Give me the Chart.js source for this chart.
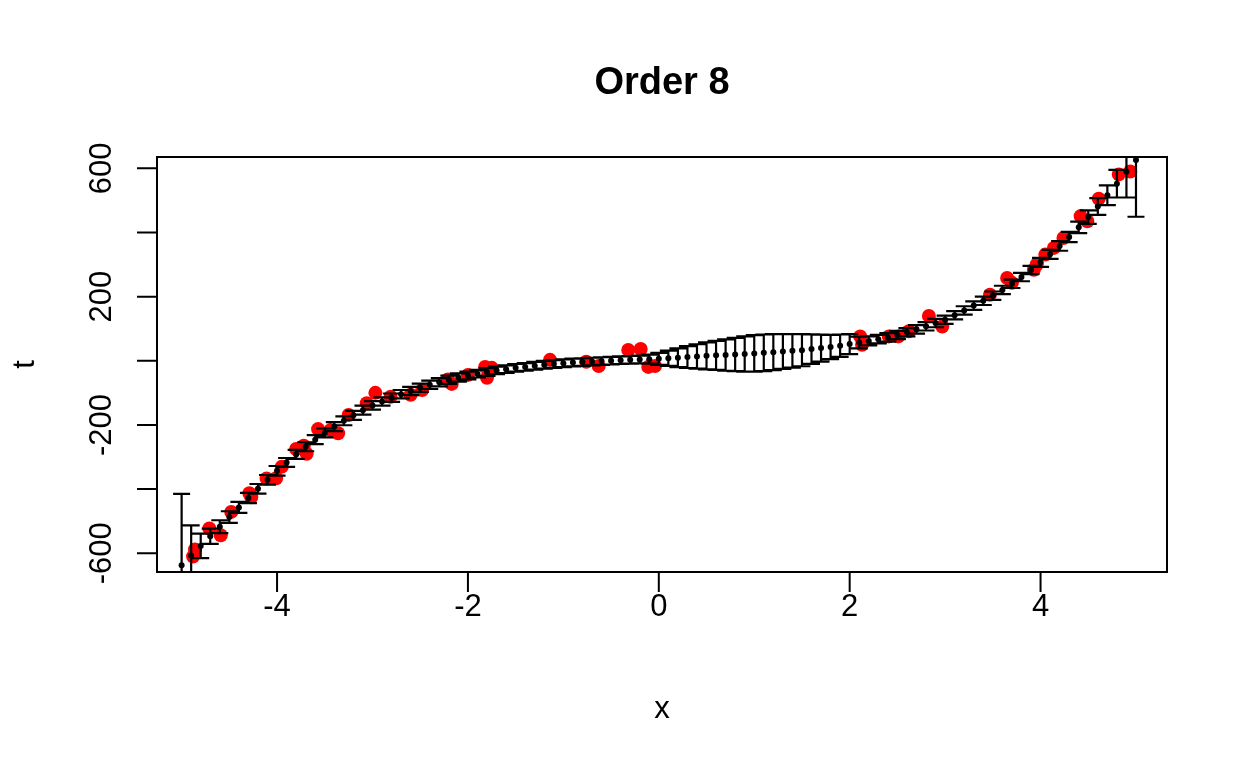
<!DOCTYPE html>
<html>
<head>
<meta charset="utf-8">
<title>Order 8</title>
<script src="https://cdn.jsdelivr.net/npm/chart.js@4.4.1/dist/chart.umd.min.js"></script>
<style>
  html, body { margin: 0; padding: 0; background: #fff; }
  #wrap { width: 1248px; height: 768px; }
</style>
</head>
<body>
<div id="wrap"><canvas id="chart" width="1248" height="768"></canvas></div>
<script>
// observed training points (red)
const obsX = [-4.88, -4.86, -4.71, -4.59, -4.48, -4.29, -4.27, -4.11, -4.01, -3.95,
              -3.8, -3.72, -3.69, -3.57, -3.44, -3.36, -3.25, -3.06, -2.97, -2.81,
              -2.6, -2.48, -2.21, -2.17, -2.0, -1.82, -1.8, -1.75, -1.14, -0.76,
              -0.63, -0.32, -0.19, -0.11, -0.04, 2.11, 2.13, 2.41, 2.51, 2.62,
              2.83, 2.97, 3.47, 3.65, 3.7, 3.93, 3.96, 4.05, 4.14, 4.24,
              4.42, 4.49, 4.61, 4.82, 4.94];
const obsT = [-610, -588, -523, -544, -471, -413, -425, -367, -366, -330,
              -275, -265, -290, -213, -216, -226, -169, -132, -100, -112,
              -106, -91, -58, -72, -44, -19, -53, -22, 3, -3,
              -16, 34, 37, -19, -16, 76, 50, 76, 76, 92,
              140, 107, 206, 258, 243, 284, 300, 331, 352, 383,
              451, 435, 505, 581, 590];

// prediction grid, predictive mean and error bar half-width
const gridX = [-5, -4.9, -4.8, -4.7, -4.6, -4.5, -4.4, -4.3, -4.2, -4.1,
               -4, -3.9, -3.8, -3.7, -3.6, -3.5, -3.4, -3.3, -3.2, -3.1,
               -3, -2.9, -2.8, -2.7, -2.6, -2.5, -2.4, -2.3, -2.2, -2.1,
               -2, -1.9, -1.8, -1.7, -1.6, -1.5, -1.4, -1.3, -1.2, -1.1,
               -1, -0.9, -0.8, -0.7, -0.6, -0.5, -0.4, -0.3, -0.2, -0.1,
               0, 0.1, 0.2, 0.3, 0.4, 0.5, 0.6, 0.7, 0.8, 0.9,
               1, 1.1, 1.2, 1.3, 1.4, 1.5, 1.6, 1.7, 1.8, 1.9,
               2, 2.1, 2.2, 2.3, 2.4, 2.5, 2.6, 2.7, 2.8, 2.9,
               3, 3.1, 3.2, 3.3, 3.4, 3.5, 3.6, 3.7, 3.8, 3.9,
               4, 4.1, 4.2, 4.3, 4.4, 4.5, 4.6, 4.7, 4.8, 4.9,
               5];
const predMean = [-637, -607, -577, -547, -517, -487, -457, -428, -399, -371,
                  -343, -317, -292, -268, -246, -225, -205, -187, -170, -154,
                  -139, -127, -115, -104, -94, -84, -75, -67, -59, -52,
                  -46, -40, -35, -30, -26, -22, -19, -15.5, -12.5, -10,
                  -7.5, -5.5, -4, -2.5, -1, 0.5, 2, 3, 4, 5,
                  6, 8, 9.5, 11.5, 13.5, 15.5, 17, 18, 19.5, 21,
                  23, 25, 27, 29, 31, 33, 36.5, 39.5, 43, 47,
                  52, 57, 62, 67.5, 73, 80.5, 89, 98, 107.5, 117.5,
                  128, 142, 157, 172, 187, 203, 221, 240, 261, 283,
                  307, 332, 358, 386, 416, 448, 481, 516, 552, 589,
                  626];
const predErr = [222, 94, 38, 24, 20, 18, 17, 16, 15, 15,
                 15, 14, 14, 14, 14, 14, 14, 14, 14, 14,
                 13, 13, 13, 13, 13, 13, 13, 13, 13, 13,
                 12, 12, 12, 12, 12, 12, 12, 12, 12, 12,
                 12, 12, 12, 12, 12, 12, 12, 12, 12, 14,
                 19, 24, 29, 34, 38, 42, 45, 49, 52, 55,
                 57, 57, 56, 54, 52, 50, 46, 42, 38, 35,
                 31, 18, 14, 13, 13, 13, 13, 13, 13, 13,
                 13, 13, 13, 13, 13, 13, 13, 13, 13, 13,
                 14, 14, 15, 16, 18, 21, 26, 31, 43, 80,
                 177];

// axes
const xTicks = [-4, -2, 0, 2, 4];
const yTicks = [-600, -400, -200, 0, 200, 400, 600];
const yTickLabels = ["-600", "", "-200", "", "200", "", "600"];
const titleText = "Order 8";
const xLabel = "x";
const yLabel = "t";

const FONT = "'Liberation Sans', Arial, Helvetica, sans-serif";
const CAP = 8.5;   // half width of error bar caps
const TICK = 20;

// draws error bars, the box, ticks and labels the way base R does
const rFrame = {
  id: "rFrame",
  afterDatasetsDraw(chart) {
    const { ctx, chartArea: a, scales: { x, y } } = chart;

    // error bars, clipped to the plot region
    ctx.save();
    ctx.beginPath();
    ctx.rect(a.left, a.top, a.right - a.left, a.bottom - a.top);
    ctx.clip();
    ctx.strokeStyle = "#000";
    ctx.lineWidth = 2.2;
    ctx.beginPath();
    gridX.forEach((gx, i) => {
      const px = x.getPixelForValue(gx);
      const lo = y.getPixelForValue(predMean[i] - predErr[i]);
      const hi = y.getPixelForValue(predMean[i] + predErr[i]);
      ctx.moveTo(px, lo); ctx.lineTo(px, hi);
      ctx.moveTo(px - CAP, lo); ctx.lineTo(px + CAP, lo);
      ctx.moveTo(px - CAP, hi); ctx.lineTo(px + CAP, hi);
    });
    ctx.stroke();
    ctx.restore();

    // box + ticks
    ctx.save();
    ctx.strokeStyle = "#000";
    ctx.lineWidth = 2;
    ctx.strokeRect(a.left, a.top, a.right - a.left, a.bottom - a.top);
    ctx.beginPath();
    xTicks.forEach(v => {
      const px = x.getPixelForValue(v);
      ctx.moveTo(px, a.bottom); ctx.lineTo(px, a.bottom + TICK);
    });
    yTicks.forEach(v => {
      const py = y.getPixelForValue(v);
      ctx.moveTo(a.left, py); ctx.lineTo(a.left - TICK, py);
    });
    ctx.stroke();

    // tick labels
    ctx.fillStyle = "#000";
    ctx.font = "31px " + FONT;
    ctx.textAlign = "center";
    ctx.textBaseline = "alphabetic";
    xTicks.forEach(v => {
      ctx.fillText(String(v), x.getPixelForValue(v), a.bottom + 44);
    });
    yTicks.forEach((v, i) => {
      if (!yTickLabels[i]) return;
      ctx.save();
      ctx.translate(a.left - 46, y.getPixelForValue(v));
      ctx.rotate(-Math.PI / 2);
      ctx.fillText(yTickLabels[i], 0, 0);
      ctx.restore();
    });

    // axis titles
    const cx = (a.left + a.right) / 2;
    const cy = (a.top + a.bottom) / 2;
    ctx.fillText(xLabel, cx, a.bottom + 146);
    ctx.save();
    ctx.translate(a.left - 123, cy);
    ctx.rotate(-Math.PI / 2);
    ctx.fillText(yLabel, 0, 0);
    ctx.restore();

    // main title
    ctx.font = "bold 38px " + FONT;
    ctx.fillText(titleText, cx, 94);
    ctx.restore();
  }
};

const blackPts = gridX.map((v, i) => ({ x: v, y: predMean[i] }));
const redPts = obsX.map((v, i) => ({ x: v, y: obsT[i] }));

new Chart(document.getElementById("chart"), {
  type: "scatter",
  data: {
    datasets: [
      {
        label: "mean",
        data: blackPts,
        order: 0,
        pointRadius: 3,
        pointBackgroundColor: "#000",
        pointBorderWidth: 0
      },
      {
        label: "data",
        data: redPts,
        order: 1,
        pointRadius: 7,
        pointBackgroundColor: "#ff0000",
        pointBorderWidth: 0
      }
    ]
  },
  options: {
    responsive: false,
    animation: false,
    devicePixelRatio: 1,
    layout: { padding: { left: 157, top: 157, right: 81, bottom: 196 } },
    plugins: { legend: { display: false }, tooltip: { enabled: false } },
    scales: {
      x: { type: "linear", min: -5.258, max: 5.325, display: false },
      y: { type: "linear", min: -658.4, max: 635.3, display: false }
    }
  },
  plugins: [rFrame]
});
</script>
</body>
</html>
